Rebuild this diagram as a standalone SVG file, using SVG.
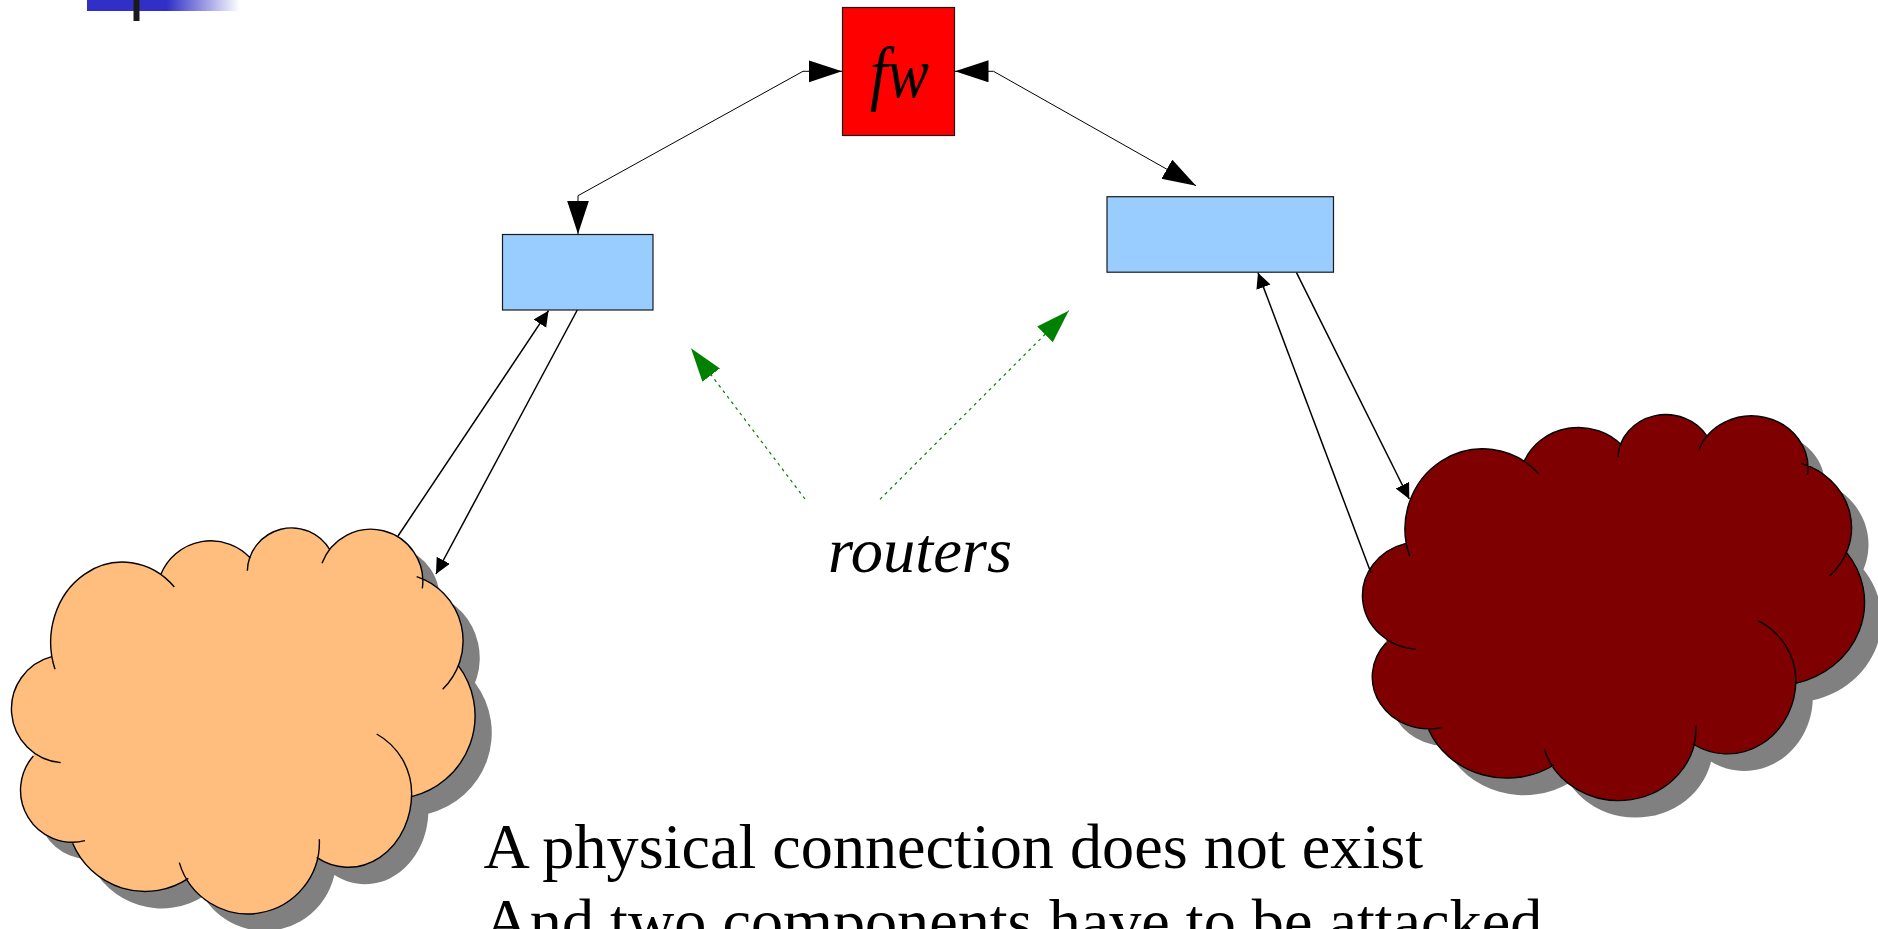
<svg xmlns="http://www.w3.org/2000/svg" width="1878" height="929" viewBox="0 0 1878 929">
<style>
.box{stroke:#1a1a1a;stroke-width:1.2}
.blue{fill:#99ccff}
.shadow{fill:#808080}
.arcs{fill:none;stroke:#000;stroke-width:1.4;vector-effect:non-scaling-stroke}
.con{fill:none;stroke:#000;stroke-width:1.5}
.thin{fill:none;stroke:#000;stroke-width:1}
.dot{fill:none;stroke:#008000;stroke-width:1.2;stroke-dasharray:3 4}
.hand{font-family:"Liberation Serif",serif;font-style:italic;fill:#000}
.body{font-family:"Liberation Serif",serif;font-size:64.2px;fill:#000}
</style>
<defs>
<linearGradient id="fade" x1="0" x2="1" y1="0" y2="0"><stop offset="0" stop-color="#3030c8"/><stop offset="0.52" stop-color="#3030c8"/><stop offset="1" stop-color="#3030c8" stop-opacity="0"/></linearGradient>
<marker id="big" markerUnits="userSpaceOnUse" markerWidth="34" markerHeight="23" refX="33.5" refY="11" orient="auto-start-reverse"><path d="M0 0L33.5 11L0 22Z" fill="#000"/></marker>
<marker id="small" markerUnits="userSpaceOnUse" markerWidth="16" markerHeight="16" refX="15.5" refY="7.5" orient="auto"><path d="M0 0L15.5 7.5L0 15Z" fill="#000"/></marker>
<marker id="green" markerUnits="userSpaceOnUse" markerWidth="34" markerHeight="23" refX="33.5" refY="11" orient="auto"><path d="M0 0L33.5 11L0 22Z" fill="#008000"/></marker>
<path id="blob" d="M165 508A215 240 0 0 1 523 261M483 222A162 162 0 0 1 752 175M742 212A133 133 0 0 1 990 150M966 190A156 156 0 0 1 1267 265M1250 230A203 203 0 0 1 1328 568M1375 497A250 250 0 0 1 1235 890M1130 702A205 205 0 0 1 1235 880A190 222 0 0 1 950 1072M958 1018A214.5 214.5 0 0 1 538 1088M565 1135A235 235 0 0 1 218 1030M255 1022A156 156 0 0 1 100 768M182 788A162 162 0 0 1 155 470M155 470L483 222L752 175L990 150L1263 233L1375 497L1235 890L950 1072L565 1135L218 1030L100 768Z"/>
<path id="lobes" class="arcs" d="M165 508A215 240 0 0 1 523 261M483 222A162 162 0 0 1 752 175M742 212A133 133 0 0 1 990 150M966 190A156 156 0 0 1 1267 265M1250 230A203 203 0 0 1 1328 568M1375 497A250 250 0 0 1 1235 890M1130 702A205 205 0 0 1 1235 880A190 222 0 0 1 950 1072M958 1018A214.5 214.5 0 0 1 538 1088M565 1135A235 235 0 0 1 218 1030M255 1022A156 156 0 0 1 100 768M182 788A162 162 0 0 1 155 470"/>
</defs>
<rect width="1878" height="929" fill="#fff"/>
<g id="title-bar">
<rect x="87" y="0" width="153" height="11" fill="url(#fade)"/>
<rect x="133.5" y="0" width="6" height="21" fill="#1a1a1a"/>
</g>
<g id="cloud-left">
<use href="#blob" class="shadow" transform="matrix(.33333 0 0 .33333 16.7 517)"/>
<use href="#blob" fill="#ffbe7d" transform="matrix(.33333 0 0 .33333 0 500)"/>
<use href="#lobes" transform="matrix(.33333 0 0 .33333 0 500)"/>
</g>
<g id="cloud-right">
<use href="#blob" class="shadow" transform="matrix(.361 0 0 .33333 1367 403.7)"/>
<use href="#blob" fill="#7f0000" transform="matrix(.361 0 0 .33333 1350.05 386.67)"/>
<use href="#lobes" transform="matrix(.361 0 0 .33333 1350.05 386.67)"/>
</g>
<g id="fw">
<rect class="box" x="842.5" y="7.5" width="112" height="128" fill="#ff0000"/>
<text class="hand" x="870" y="97" font-size="72" textLength="59" lengthAdjust="spacingAndGlyphs">fw</text>
</g>
<g id="router-left"><rect class="box blue" x="502.5" y="234.5" width="150.5" height="75.5"/></g>
<g id="router-right"><rect class="box blue" x="1107" y="196.7" width="226.5" height="75.5"/></g>
<g id="connectors">
<path class="thin" d="M842 71.3H803L578 195.7V234" marker-start="url(#big)" marker-end="url(#big)"/>
<path class="thin" d="M955 71.3H993.5L1196 185.7" marker-start="url(#big)" marker-end="url(#big)"/>
<path class="con" d="M398 536L548.5 310.7" marker-end="url(#small)"/>
<path class="con" d="M577.3 310L436 574" marker-end="url(#small)"/>
<path class="con" d="M1371 573L1258 272.7" marker-end="url(#small)"/>
<path class="con" d="M1296.5 272.7L1409.3 499" marker-end="url(#small)"/>
<path class="dot" d="M805 499L691 348.3" marker-end="url(#green)"/>
<path class="dot" d="M880 499.3L1068.7 310.7" marker-end="url(#green)"/>
</g>
<g id="labels">
<text class="hand" x="828" y="572" font-size="64" textLength="184" lengthAdjust="spacingAndGlyphs">routers</text>
<text class="body" x="483.5" y="868">A physical connection does not exist</text>
<text class="body" x="483.5" y="943">And two components have to be attacked</text>
</g>
</svg>
